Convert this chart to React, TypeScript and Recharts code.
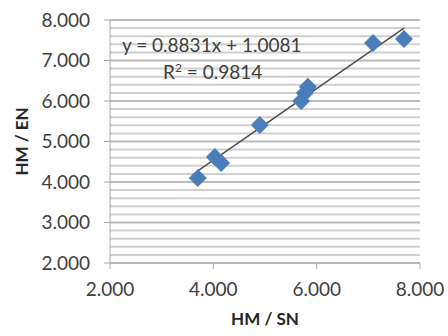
import React from "react";
import {
  ScatterChart, Scatter, XAxis, YAxis, ZAxis, CartesianGrid, ReferenceLine,
} from "recharts";

// HM / SN vs HM / EN
const hmSN = [3.7, 4.03, 4.15, 4.9, 5.7, 5.77, 5.83, 7.09, 7.69];
const hmEN = [4.1, 4.62, 4.47, 5.41, 6.0, 6.2, 6.35, 7.43, 7.53];
const xTicks = [2, 4, 6, 8];
// major labels every 1, minor gridlines every 0.2
const yTicks = [
  2, 2.2, 2.4, 2.6, 2.8, 3, 3.2, 3.4, 3.6, 3.8, 4, 4.2, 4.4, 4.6, 4.8, 5,
  5.2, 5.4, 5.6, 5.8, 6, 6.2, 6.4, 6.6, 6.8, 7, 7.2, 7.4, 7.6, 7.8, 8,
];
const slope = 0.8831;
const intercept = 1.0081;
const r2 = 0.9814;

const points = hmSN.map((x, i) => ({ x, y: hmEN[i] }));
const xMin = Math.min(...hmSN);
const xMax = Math.max(...hmSN);
const trend = [
  { x: xMin, y: slope * xMin + intercept },
  { x: xMax, y: slope * xMax + intercept },
];

const FONT = "Lato, 'Liberation Sans', sans-serif";
const fmt = (v: number) => v.toFixed(3);
const isMajor = (v: number) => Math.abs(v - Math.round(v)) < 1e-6;

// square diamond like the excel marker
const Diamond = (p: any) => {
  const { cx, cy } = p;
  const r = 9;
  return (
    <polygon
      points={`${cx},${cy - r} ${cx + r},${cy} ${cx},${cy + r} ${cx - r},${cy}`}
      fill="#4a7ebb"
    />
  );
};

const GridLine = (p: any) => {
  const major = p.index % 5 === 0;
  return (
    <line
      key={p.key}
      x1={p.x1} y1={p.y1} x2={p.x2} y2={p.y2}
      stroke={major ? "#bcbcbc" : "#cfcfcf"}
      strokeWidth={2}
    />
  );
};

const YTick = (p: any) => {
  const v = p.payload.value;
  if (!isMajor(v)) return <g />;
  return (
    <g>
      <line x1={p.x + 14} y1={p.y} x2={p.x + 20} y2={p.y} stroke="#a6a6a6" />
      <text x={p.x} y={p.y} dy="0.355em" textAnchor="end" fill="#404040" fontSize={19} fontFamily={FONT}>
        {fmt(v)}
      </text>
    </g>
  );
};

export default function App() {
  return (
    <div style={{ position: "absolute", left: 0, top: 0, width: 448, height: 336, background: "#fff", fontFamily: FONT }}>
      <ScatterChart width={448} height={336} margin={{ top: 20, right: 28, left: 0, bottom: 0 }}>
        <CartesianGrid vertical={false} horizontal={GridLine} />
        <XAxis
          type="number" dataKey="x" domain={[2, 8]} ticks={xTicks} tickFormatter={fmt}
          height={73} tickSize={6} tickMargin={14}
          stroke="#b0b0b0" tick={{ fill: "#404040", fontSize: 19, fontFamily: FONT }}
          label={{ value: "HM / SN", position: "insideBottom", offset: 11, fill: "#262626", fontSize: 17, fontWeight: 700, fontFamily: FONT }}
        />
        <YAxis
          type="number" dataKey="y" domain={[2, 8]} ticks={yTicks} interval={0}
          width={110} tickSize={6} tickMargin={14} tickLine={false}
          stroke="#a6a6a6" tick={YTick}
          label={{ value: "HM / EN", angle: -90, position: "insideLeft", offset: 22, fill: "#262626", fontSize: 17, fontWeight: 700, fontFamily: FONT, style: { textAnchor: "middle" } }}
        />
        <ZAxis range={[150, 150]} />
        <ReferenceLine
          segment={trend}
          stroke="#4d4d4d" strokeWidth={1.5}
        />
        <Scatter data={points} shape={Diamond} isAnimationActive={false} />
      </ScatterChart>
      <div style={{ position: "absolute", left: 122, top: 33, fontSize: 19, color: "#404040", whiteSpace: "nowrap" }}>
        y = {slope}x + {intercept}
      </div>
      <div style={{ position: "absolute", left: 163, top: 60, fontSize: 19, color: "#404040", whiteSpace: "nowrap" }}>
        R<sup style={{ fontSize: 12 }}>2</sup> = {r2}
      </div>
    </div>
  );
}
